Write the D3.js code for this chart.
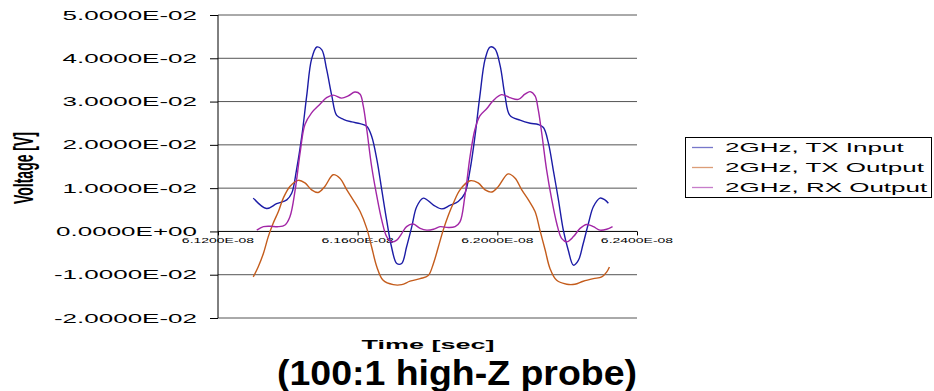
<!DOCTYPE html>
<html>
<head>
<meta charset="utf-8">
<script src="https://cdn.jsdelivr.net/npm/d3@7/dist/d3.min.js"></script>
<style>
html,body{margin:0;padding:0;background:#fff;}
svg{display:block;}
text{font-family:"Liberation Sans",Arial,Helvetica,sans-serif;fill:#000;}
</style>
</head>
<body>
<svg id="chart" width="934" height="391"></svg>
<script>
// ---- data (time in units of 1e-8 s, voltage in units of 1e-2 V) ----
const TIME_UNIT = 1e-8;
const VOLT_UNIT = 1e-2;

const seriesNames = ["2GHz, TX Input", "2GHz, TX Output", "2GHz, RX Output"];
const seriesColors = ["#1c1ca6", "#c45c1c", "#a226a6"];

const txInputTime = [6.1301,6.1339,6.1368,6.1397,6.1411,6.1425,6.1440,6.1454,6.1468,6.1483,
  6.1497,6.1511,6.1526,6.1540,6.1559,6.1583,6.1607,6.1626,6.1640,6.1655,
  6.1669,6.1683,6.1697,6.1712,6.1726,6.1740,6.1755,6.1769,6.1788,6.1817,
  6.1841,6.1864,6.1888,6.1907,6.1922,6.1936,6.1950,6.1965,6.1979,6.1993,
  6.2008,6.2022,6.2036,6.2065,6.2094,6.2117,6.2132,6.2146,6.2160,6.2175,
  6.2189,6.2203,6.2218,6.2232,6.2246,6.2261,6.2275,6.2294,6.2308,6.2318];
const txInputVolt = [0.77,0.53,0.64,0.73,0.88,1.43,2.2,3.13,3.98,4.26,
  4.2,3.75,3.13,2.68,2.59,2.53,2.49,2.43,2.2,1.66,
  0.96,0.26,-0.36,-0.74,-0.74,-0.36,0.11,0.57,0.77,0.61,
  0.52,0.6,0.69,0.88,1.43,2.2,3.13,3.98,4.26,4.22,
  3.83,3.13,2.68,2.57,2.5,2.47,2.4,2.05,1.43,0.73,
  0.03,-0.43,-0.78,-0.67,-0.28,0.19,0.57,0.77,0.73,0.65];

const txOutputTime = [6.1301,6.1315,6.1330,6.1344,6.1358,6.1373,6.1387,6.1406,6.1430,6.1449,
  6.1468,6.1487,6.1506,6.1530,6.1549,6.1569,6.1587,6.1607,6.1626,6.1640,
  6.1655,6.1673,6.1702,6.1726,6.1750,6.1779,6.1802,6.1817,6.1831,6.1845,
  6.1860,6.1874,6.1893,6.1922,6.1945,6.1965,6.1984,6.2003,6.2031,6.2051,
  6.2070,6.2089,6.2108,6.2122,6.2137,6.2151,6.2170,6.2199,6.2222,6.2246,
  6.2275,6.2299,6.2313,6.2321];
const txOutputVolt = [-1.05,-0.82,-0.51,-0.12,0.19,0.46,0.77,1.04,1.18,1.12,
  0.96,0.9,1.04,1.31,1.23,0.96,0.73,0.46,0.07,-0.36,
  -0.82,-1.13,-1.23,-1.23,-1.15,-1.09,-1.02,-0.74,-0.36,0.03,
  0.38,0.65,0.96,1.17,1.12,0.96,0.91,1.04,1.33,1.23,
  0.96,0.73,0.46,0.03,-0.43,-0.86,-1.13,-1.22,-1.22,-1.15,
  -1.09,-1.05,-0.94,-0.82];

const rxOutputTime = [6.1311,6.1330,6.1349,6.1373,6.1392,6.1406,6.1421,6.1435,6.1449,6.1468,
  6.1492,6.1511,6.1530,6.1554,6.1573,6.1592,6.1607,6.1616,6.1626,6.1640,
  6.1655,6.1669,6.1683,6.1697,6.1712,6.1726,6.1740,6.1759,6.1779,6.1798,
  6.1817,6.1836,6.1860,6.1879,6.1893,6.1907,6.1922,6.1936,6.1950,6.1970,
  6.1988,6.2012,6.2036,6.2060,6.2079,6.2094,6.2108,6.2117,6.2127,6.2141,
  6.2156,6.2170,6.2184,6.2199,6.2218,6.2237,6.2256,6.2275,6.2294,6.2313,
  6.2330];
const rxOutputVolt = [0.03,0.11,0.12,0.11,0.15,0.34,0.96,1.81,2.47,2.74,
  2.94,3.09,3.15,3.08,3.13,3.22,3.17,2.9,2.36,1.5,
  0.81,0.26,-0.12,-0.24,-0.2,-0.05,0.11,0.17,0.07,0.03,
  0.05,0.11,0.09,0.11,0.22,0.81,1.74,2.36,2.67,2.84,
  3.02,3.16,3.09,3.05,3.17,3.23,3.13,2.82,2.28,1.43,
  0.73,0.19,-0.16,-0.24,-0.12,0.07,0.16,0.11,0.03,0.05,
  0.11];

const xTicks = [6.12, 6.16, 6.20, 6.24];          // x 1e-8 s
const yTicks = [5, 4, 3, 2, 1, 0, -1, -2];        // x 1e-2 V

const xAxisTitle = "Time [sec]";
const yAxisTitle = "Voltage [V]";
const chartCaption = "(100:1 high-Z probe)";

// ---- helpers ----
function sci(v) {
  if (v === 0) return "0.0000E+00";
  const e = Math.floor(Math.log10(Math.abs(v)) + 1e-9);
  const m = v / Math.pow(10, e);
  const es = (e < 0 ? "-" : "+") + String(Math.abs(e)).padStart(2, "0");
  return m.toFixed(4) + "E" + es;
}

const svg = d3.select("#chart");
const x = d3.scaleLinear().domain([6.12 * TIME_UNIT, 6.24 * TIME_UNIT]).range([218, 637]);
const y = d3.scaleLinear().domain([-0.02, 0.05]).range([318, 15]);

// gridlines
svg.append("g").selectAll("line").data(yTicks.filter(v => v !== 0)).join("line")
  .attr("x1", 218).attr("x2", 637)
  .attr("y1", d => y(d * VOLT_UNIT)).attr("y2", d => y(d * VOLT_UNIT))
  .attr("stroke", "#555").attr("stroke-width", 1);

// y axis
const yAxis = d3.axisLeft(y).tickValues(yTicks.map(v => v * VOLT_UNIT)).tickSize(8).tickFormat("");
const gy = svg.append("g").attr("transform", "translate(218,0)").call(yAxis);
gy.select(".domain").attr("stroke", "#000").attr("d", `M0,${y(0.05)}V${y(-0.02)}`);
gy.selectAll(".tick line").attr("stroke", "#000");

// y tick labels (stretched horizontally)
svg.append("g").selectAll("g").data(yTicks).join("g")
  .attr("transform", d => `translate(197,${y(d * VOLT_UNIT) + 4.5}) scale(2,1)`)
  .append("text").attr("text-anchor", "end").attr("font-size", 13)
  .text(d => sci(d * VOLT_UNIT));

// x axis at zero
const xAxis = d3.axisBottom(x).tickValues(xTicks.map(v => v * TIME_UNIT)).tickSize(4).tickFormat("");
const gx = svg.append("g").attr("transform", `translate(0,${y(0)})`).call(xAxis);
gx.select(".domain").attr("stroke", "#000").attr("d", `M218,0H637`);
gx.selectAll(".tick line").attr("stroke", "#000");

svg.append("g").selectAll("g").data(xTicks).join("g")
  .attr("transform", d => `translate(${x(d * TIME_UNIT)},${y(0) + 12}) scale(2,1)`)
  .append("text").attr("text-anchor", "middle").attr("font-size", 7)
  .text(d => sci(d * TIME_UNIT));

// series
const series = [
  {t: txInputTime, v: txInputVolt},
  {t: txOutputTime, v: txOutputVolt},
  {t: rxOutputTime, v: rxOutputVolt}
];
const line = d3.line()
  .x(d => x(d[0] * TIME_UNIT)).y(d => y(d[1] * VOLT_UNIT))
  .curve(d3.curveCatmullRom.alpha(0.5));

series.forEach((s, i) => {
  const pts = s.t.map((t, k) => [t, s.v[k]]);
  svg.append("path").datum(pts).attr("d", line)
    .attr("fill", "none").attr("stroke", seriesColors[i]).attr("stroke-width", 1.4)
    .attr("stroke-linejoin", "round");
});

// axis titles
svg.append("g").attr("transform", "translate(33,168) scale(2,1) rotate(-90)")
  .append("text").attr("text-anchor", "middle").attr("font-size", 14).attr("font-weight", "bold")
  .text(yAxisTitle);

svg.append("g").attr("transform", "translate(428,349) scale(2,1)")
  .append("text").attr("text-anchor", "middle").attr("font-size", 13.5).attr("font-weight", "bold")
  .text(xAxisTitle);

svg.append("text").attr("x", 457).attr("y", 385).attr("text-anchor", "middle")
  .attr("font-size", 35).attr("font-weight", "bold")
  .attr("textLength", 360).attr("lengthAdjust", "spacingAndGlyphs")
  .text(chartCaption);

// legend
const lg = svg.append("g");
lg.append("rect").attr("x", 685.5).attr("y", 137.5).attr("width", 246).attr("height", 60)
  .attr("fill", "#fff").attr("stroke", "#000").attr("stroke-width", 1);
seriesNames.forEach((name, i) => {
  const cy = 147.5 + i * 20;
  lg.append("line").attr("x1", 692).attr("x2", 713).attr("y1", cy).attr("y2", cy)
    .attr("stroke", seriesColors[i]).attr("stroke-opacity", 0.6).attr("stroke-width", 1.3);
  lg.append("g").attr("transform", `translate(725,${cy + 4.5}) scale(2,1)`)
    .append("text").attr("font-size", 13).text(name);
});
</script>
</body>
</html>
